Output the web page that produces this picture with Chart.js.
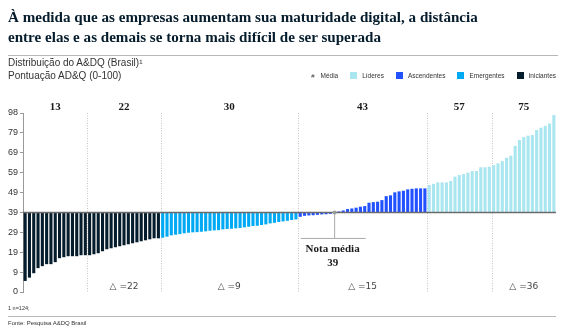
<!DOCTYPE html>
<html>
<head>
<meta charset="utf-8">
<script src="https://cdn.jsdelivr.net/npm/chart.js@4"></script>
<style>
  body { margin: 0; background: #fff; }
  #wrap { position: relative; width: 568px; height: 332px; overflow: hidden; font-family: 'Liberation Sans', Arial, sans-serif; }
  #c { position: absolute; left: 0; top: 0; }
  .abs { position: absolute; white-space: nowrap; }
  #title { left: 8px; top: 7px; font-family: 'Liberation Serif', Georgia, serif; font-weight: bold; font-size: 15.1px; line-height: 20px; color: #051c2c; }
  .rule { position: absolute; height: 1px; background: #b8b8b8; }
  .sub { left: 8px; font-size: 10px; color: #333; }
  #legend { right: 12px; top: 72px; font-size: 6.5px; color: #333; display: flex; align-items: center; }
  #legend span.sw { display: inline-block; width: 7px; height: 7px; margin: 0 5px 0 12px; }
  .foot { left: 8px; color: #333; }
</style>
</head>
<body>
<div id="wrap">
  <canvas id="c" width="568" height="332"></canvas>
  <div id="title" class="abs">À medida que as empresas aumentam sua maturidade digital, a distância<br>entre elas e as demais se torna mais difícil de ser superada</div>
  <div class="rule" style="left:8px; top:55px; width:550px;"></div>
  <div class="abs sub" style="top:57px;">Distribuição do A&amp;DQ (Brasil)¹</div>
  <div class="abs sub" style="top:70px;">Pontuação AD&amp;Q (0-100)</div>
  <div id="legend" class="abs"></div>
  <div class="abs foot" style="top:305px; font-size:5.5px;">1 n=124;</div>
  <div class="rule" style="left:8px; top:316px; width:548px;"></div>
  <div class="abs foot" style="top:320px; font-size:6px;">Fonte: Pesquisa A&amp;DQ Brasil</div>
</div>
<script>
// scores, sorted, one array per group
const iniciantes = [5, 6.5, 8.5, 11, 12, 13, 13, 14, 16, 16.5, 17, 17, 17, 17.5, 17.5,
  17.5, 18, 18.5, 19.5, 20.5, 21, 21.5, 22, 22.5, 23, 23.5, 24, 24.5, 25, 25.5, 26, 26];
const emergentes = [26.3, 26.8, 27.5, 27.8, 28.1, 28.5, 28.8, 29, 29.1, 29.3, 29.5, 29.8, 30, 30.1, 30.5, 30.7,
  30.8, 31, 31.2, 31.5, 31.8, 32.2, 32.3, 32.7, 33, 33.5, 33.8, 34.2, 34.5, 34.8, 35.2, 35.5];
const ascendentes = [36.8, 37.3, 37.5, 37.6, 37.8, 38, 38.1, 38.3, 38.9, 39.5, 40, 40.7, 41, 41.4, 41.9,
  42.2, 43.9, 44.2, 44.4, 45.2, 47.2, 47.6, 49.1, 49.6, 49.9, 50.6, 50.9, 51.1, 51.1, 51.1];
const lideres = [52.8, 53.4, 54.1, 54.1, 54.1, 54.8, 57, 57.8, 58.3, 59, 59.8, 59.8, 61.7, 61.7, 62,
  62.8, 63.7, 64.8, 66.5, 67.5, 72.5, 75.4, 76.9, 77.6, 77.9, 81.7, 84, 85.8, 88, 96];

const groupNames = ['Iniciantes', 'Emergentes', 'Ascendentes', 'Líderes'];
const groupColors = ['#051c2c', '#00a9f4', '#2251ff', '#aae6f0'];

// y axis tick labels (evenly spaced on the chart, irregular values)
const tickLabels = [0, 9, 19, 29, 39, 49, 59, 69, 79, 98];
const mediaNota = 39;

// segments between the dotted lines
const segSizes = [15, 17, 32, 30, 15, 15];
const segMedias = [13, 22, 30, 43, 57, 75];
const segDeltas = ['', '△ =22', '△ =9', '△ =15', '', '△ =36'];
const notaIndex = 72;

// map a score to the evenly spaced axis
function pos(v) {
  for (let i = 0; i < tickLabels.length - 1; i++) {
    if (v <= tickLabels[i + 1]) return 10 * i + 10 * (v - tickLabels[i]) / (tickLabels[i + 1] - tickLabels[i]);
  }
  return 10 * (tickLabels.length - 1);
}

const groups = [iniciantes, emergentes, ascendentes, lideres];
const values = [], colors = [];
groups.forEach((g, gi) => g.forEach(v => { values.push(v); colors.push(groupColors[gi]); }));
const base = pos(mediaNota);

// legend
const lg = document.getElementById('legend');
lg.innerHTML = '<span style="font-size:6px;margin-right:6px;">#</span>Média' +
  [3, 2, 1, 0].map(i => '<span class="sw" style="background:' + groupColors[i] + '"></span>' + groupNames[i]).join('');

const serif = "'Liberation Serif', Georgia, serif";

const overlay = {
  id: 'overlay',
  beforeDatasetsDraw(chart) {
    const { ctx, chartArea: a, scales: { x } } = chart;
    ctx.save();
    ctx.strokeStyle = '#c4c4c4';
    ctx.lineWidth = 1;
    ctx.setLineDash([1, 1.5]);
    let idx = 0;
    for (let s = 0; s < segSizes.length - 1; s++) {
      idx += segSizes[s];
      const px = Math.round((x.getPixelForValue(idx - 1) + x.getPixelForValue(idx)) / 2) + 0.5;
      ctx.beginPath(); ctx.moveTo(px, a.top); ctx.lineTo(px, a.bottom); ctx.stroke();
    }
    ctx.restore();
  },
  afterDatasetsDraw(chart) {
    const { ctx, chartArea: a, scales: { x, y } } = chart;
    const by = y.getPixelForValue(base);
    ctx.save();
    // baseline at the average score
    ctx.strokeStyle = '#6b6b6b';
    ctx.lineWidth = 1.5;
    ctx.beginPath(); ctx.moveTo(a.left, by); ctx.lineTo(a.right, by); ctx.stroke();

    // segment averages and deltas
    let start = 0;
    ctx.textAlign = 'center';
    segSizes.forEach((n, s) => {
      const cx = (x.getPixelForValue(start) + x.getPixelForValue(start + n - 1)) / 2;
      ctx.fillStyle = '#1a1a1a';
      ctx.font = 'bold 11px ' + serif;
      ctx.textBaseline = 'alphabetic';
      ctx.fillText(String(segMedias[s]), cx, a.top - 3);
      if (segDeltas[s]) {
        ctx.fillStyle = '#444';
        ctx.font = '9px "DejaVu Sans", sans-serif';
        ctx.textBaseline = 'middle';
        ctx.fillText(segDeltas[s], cx, a.bottom - 5);
      }
      start += n;
    });

    // nota média callout
    const nx = x.getPixelForValue(notaIndex);
    const ly = by + 26;
    ctx.strokeStyle = '#aaa';
    ctx.lineWidth = 1;
    ctx.beginPath(); ctx.moveTo(nx, by); ctx.lineTo(nx, ly); ctx.stroke();
    ctx.beginPath(); ctx.moveTo(nx - 34, ly); ctx.lineTo(nx + 31, ly); ctx.stroke();
    ctx.fillStyle = '#999';
    ctx.beginPath(); ctx.arc(nx, by, 2, 0, Math.PI * 2); ctx.fill();
    ctx.fillStyle = '#1a1a1a';
    ctx.font = 'bold 11px ' + serif;
    ctx.textBaseline = 'middle';
    ctx.fillText('Nota média', nx - 2, by + 37);
    ctx.fillText(String(mediaNota), nx - 2, by + 51);
    ctx.restore();
  }
};

new Chart(document.getElementById('c'), {
  type: 'bar',
  data: {
    labels: values.map((v, i) => i + 1),
    datasets: [{
      data: values.map(v => [base, pos(v)]),
      backgroundColor: colors,
      barPercentage: 0.72,
      categoryPercentage: 1
    }]
  },
  options: {
    responsive: false,
    devicePixelRatio: 1,
    animation: false,
    layout: { padding: { left: 0, top: 113, right: 12, bottom: 40 } },
    plugins: { legend: { display: false }, tooltip: { enabled: false } },
    scales: {
      x: { display: false },
      y: {
        min: 0, max: 90,
        afterFit(s) { s.width = 23; },
        ticks: {
          stepSize: 10,
          padding: 2,
          color: '#333',
          font: { family: "'Liberation Sans', Arial, sans-serif", size: 9 },
          callback: (v) => tickLabels[Math.round(v / 10)]
        },
        grid: { drawOnChartArea: false, tickLength: 3, color: '#999' },
        border: { color: '#999', width: 1 }
      }
    }
  },
  plugins: [overlay]
});
</script>
</body>
</html>
